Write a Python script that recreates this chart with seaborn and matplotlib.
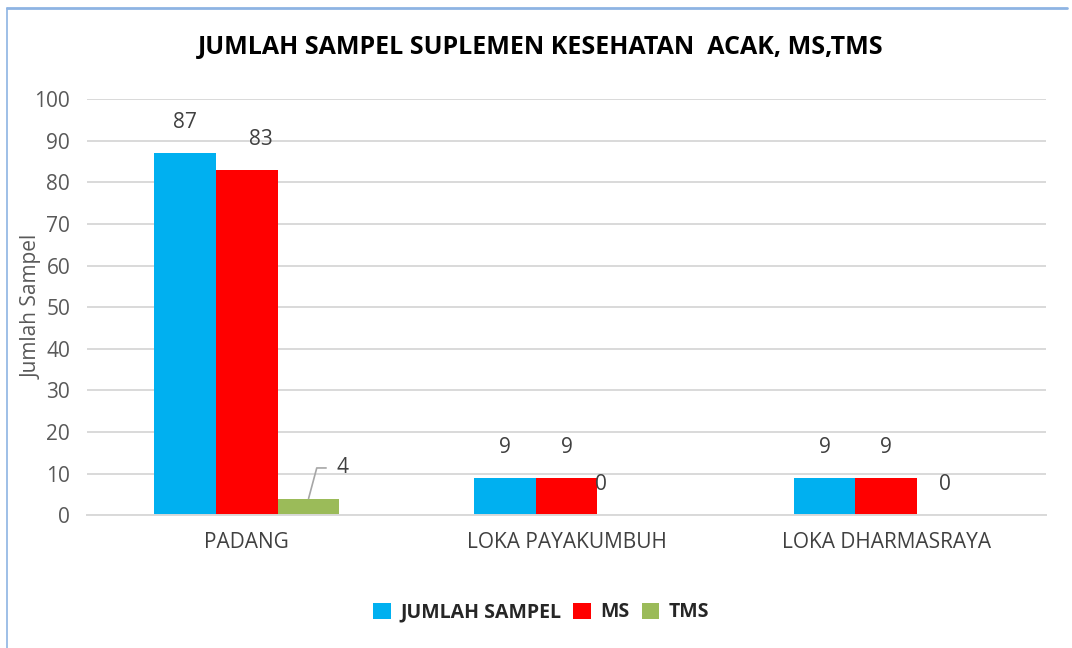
import pandas as pd
import matplotlib.pyplot as plt
import seaborn as sns
from matplotlib.lines import Line2D
from matplotlib.patches import Patch

# === Data ===
lokasi = ["PADANG", "LOKA PAYAKUMBUH", "LOKA DHARMASRAYA"]
jumlah_sampel = [87, 9, 9]
ms = [83, 9, 9]
tms = [4, 0, 0]
seri = ["JUMLAH SAMPEL", "MS", "TMS"]
warna = ["#00B0F0", "#FF0000", "#9BBB59"]

df = pd.DataFrame({
    "lokasi": lokasi * 3,
    "seri": [s for s in seri for _ in lokasi],
    "nilai": jumlah_sampel + ms + tms,
})

# === Style ===
sns.set_style("white")
plt.rcParams["font.family"] = ["Open Sans", "DejaVu Sans"]
abu = "#595959"

fig = plt.figure(figsize=(10.72, 6.48), dpi=100)
ax = fig.add_axes([0.081, 0.205, 0.895, 0.642])

sns.barplot(data=df, x="lokasi", y="nilai", hue="seri", palette=warna,
            width=0.58, gap=0, saturation=1, linewidth=0, ax=ax, legend=False)

ax.set_ylim(0, 100)
ax.set_yticks(range(0, 101, 10))
ax.set_xlim(-0.5, 2.5)
ax.grid(axis="y", color="#D9D9D9", linewidth=1.4)
ax.set_axisbelow(True)
for s in ["top", "right", "left"]:
    ax.spines[s].set_visible(False)
ax.spines["bottom"].set_color("#D9D9D9")
ax.spines["bottom"].set_linewidth(1.4)
ax.tick_params(axis="both", length=0, labelsize=15, colors=abu, labelcolor=abu)
ax.tick_params(axis="y", pad=12)
ax.tick_params(axis="x", pad=12, labelcolor="#404040")
ax.set_xlabel("")
ax.set_ylabel("Jumlah Sampel", fontsize=15, color=abu)
ax.yaxis.set_label_coords(-0.046, 0.5)

# === Data labels ===
geser = {("MS", 0): (10, 0), ("TMS", 1): (-20, 0), ("TMS", 2): (-2, 0)}
for nama, cont in zip(seri, ax.containers):
    for i, bar in enumerate(cont):
        h = bar.get_height()
        xc = bar.get_x() + bar.get_width() / 2
        if nama == "TMS" and h > 0:
            ax.annotate(f"{int(h)}", xy=(xc, h), xytext=(20, 22),
                        textcoords="offset points", ha="left", va="center",
                        fontsize=15, color="#404040",
                        arrowprops=dict(arrowstyle="-", color="#A6A6A6", lw=1.2,
                                        relpos=(0, 0.5), shrinkA=5, shrinkB=0,
                                        connectionstyle="angle,angleA=0,angleB=75,rad=0"))
            continue
        dx, dy = geser.get((nama, i), (0, 0))
        ax.annotate(f"{int(h)}", xy=(xc, h), xytext=(dx, 22 + dy),
                    textcoords="offset points", ha="center", va="center",
                    fontsize=15, color="#404040")

# === Title & legend ===
fig.text(0.504, 0.927, "JUMLAH SAMPEL SUPLEMEN KESEHATAN  ACAK, MS,TMS",
         ha="center", va="center", fontsize=18, fontweight="bold", color="black")

handles = [Patch(facecolor=c, edgecolor="none") for c in warna]
fig.legend(handles, seri, loc="center", bbox_to_anchor=(0.505, 0.055), ncol=3,
           frameon=False, handlelength=0.9, handleheight=0.9, handletextpad=0.5,
           columnspacing=0.6, prop={"weight": "bold", "size": 14})

# === Frame ===
fig.add_artist(Line2D([0.0065, 0.995], [0.988, 0.988], transform=fig.transFigure,
                      color="#8EB4E3", linewidth=2))
fig.add_artist(Line2D([0.0065, 0.0065], [0.0, 0.988], transform=fig.transFigure,
                      color="#8EB4E3", linewidth=1.2))

plt.savefig("out.png", dpi=100)
plt.close()
